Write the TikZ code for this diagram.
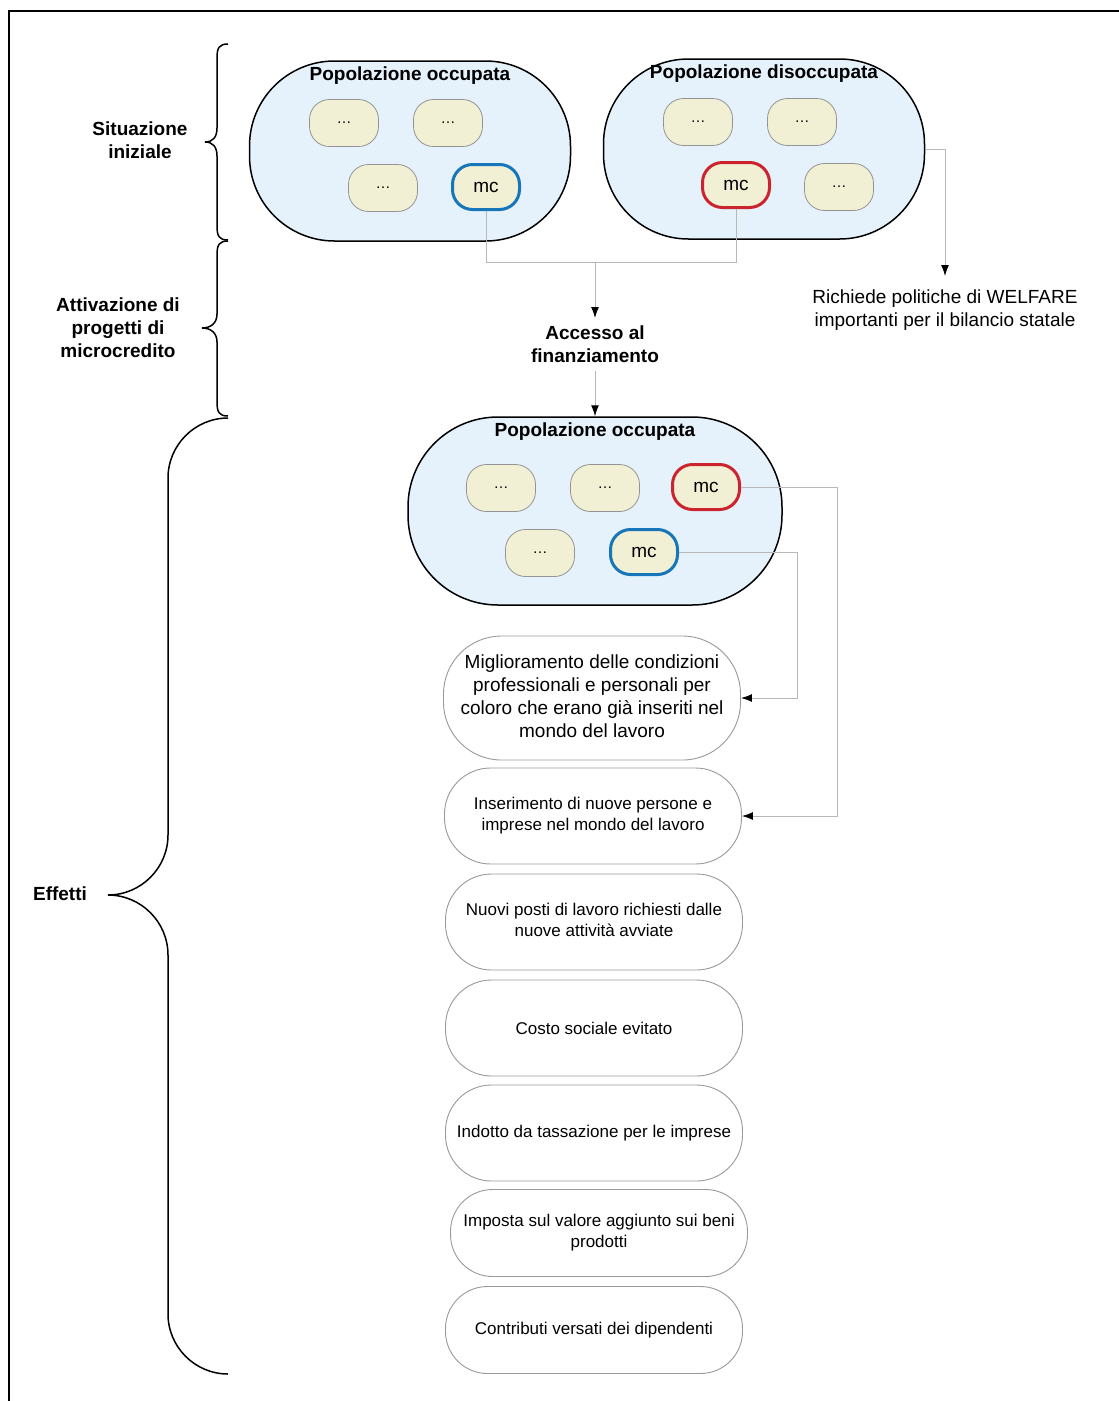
\documentclass[tikz,border=0pt]{standalone}
\usepackage{fontspec}
\setmainfont{Liberation Sans}
\usepackage{tikz}
\usetikzlibrary{arrows.meta}
\usetikzlibrary{positioning}
\definecolor{popfill}{rgb}{0.90, 0.95, 0.99}
\definecolor{itemfill}{rgb}{0.95, 0.94, 0.83}
\definecolor{itemline}{rgb}{0.58, 0.58, 0.58}
\definecolor{mblue}{rgb}{0.09, 0.46, 0.73}
\definecolor{mred}{rgb}{0.80, 0.14, 0.18}
\definecolor{connline}{rgb}{0.72, 0.72, 0.72}
\definecolor{effline}{rgb}{0.6, 0.6, 0.6}
\tikzset{pop/.style = {draw, line width = 1.5, fill = popfill, rounded corners = 85, minimum width = 321, minimum height = 180}}
\tikzset{poptitle/.style = {anchor = north, inner ysep = 6, font = \bfseries\fontsize{19}{23}\selectfont}}
\tikzset{item/.style = {draw = itemline, line width = 0.8, fill = itemfill, rounded corners = 20, minimum width = 69, minimum height = 47, font = \fontsize{15}{17}\selectfont}}
\tikzset{mcb/.style = {item, draw = mblue, line width = 3, minimum width = 67, minimum height = 45, font = \fontsize{19}{22}\selectfont}}
\tikzset{mcr/.style = {mcb, draw = mred}}
\tikzset{lab/.style = {align = center, font = \bfseries\fontsize{19}{23}\selectfont}}
\tikzset{effect/.style = {draw = effline, line width = 0.9, fill = white, rounded corners = 46, minimum width = 297, minimum height = 96, align = center, font = \fontsize{17}{21}\selectfont}}
\tikzset{conn/.style = {draw = connline, line width = 1}}
\tikzset{arr/.style = {conn, -{Latex[length = 11pt, width = 8pt, black]}}}
\tikzset{brace/.style = {draw, line width = 1.5}}

\begin{document}
\begin{tikzpicture}[x = 1pt, y = -1pt]
      \useasboundingbox (0, 0) rectangle (1119, 1401);
      \draw [line width = 2] (9, 1401) -- (9, 11) -- (1119, 11);

      % braces
      \draw [brace] (228, 44) .. controls (219, 44) and (217, 48) .. (217, 58) -- (217, 128)
            .. controls (217, 137) and (213, 142) .. (205, 142) .. controls (213, 142) and (217, 147) .. (217, 156)
            -- (217, 226) .. controls (217, 236) and (219, 240) .. (228, 240);
      \draw [brace] (228, 241) .. controls (219, 241) and (217, 245) .. (217, 255) -- (217, 314)
            .. controls (217, 323) and (211, 328) .. (202, 328) .. controls (211, 328) and (217, 333) .. (217, 342)
            -- (217, 402) .. controls (217, 412) and (219, 416) .. (228, 416);
      \draw [brace] (228, 418) .. controls (195, 418) and (168, 445) .. (168, 478) -- (168, 835)
            .. controls (168, 868) and (141, 895) .. (108, 895) .. controls (141, 895) and (168, 922) .. (168, 955)
            -- (168, 1314) .. controls (168, 1347) and (195, 1374) .. (228, 1374);
      \node [lab] (sit) at (140, 140) {Situazione\\iniziale};
      \node [lab] (att) at (118, 328) {Attivazione di\\progetti di\\microcredito};
      \node [lab] (eff) at (60, 894) {Effetti};

      % popolazione occupata
      \node [pop] (pop1) at (410, 151) {};
      \node [poptitle] (pop1t) at (pop1.north) {Popolazione occupata};
      \node [item] (o1) at (344, 123) {\dots};
      \node [item] (o2) at (448, 123) {\dots};
      \node [item] (o3) at (383, 188) {\dots};
      \node [mcb] (b1) at (486, 187) {mc};

      % popolazione disoccupata
      \node [pop] (pop2) at (764, 149) {};
      \node [poptitle] (pop2t) at (pop2.north) {Popolazione disoccupata};
      \node [item] (d1) at (698, 122) {\dots};
      \node [item] (d2) at (802, 122) {\dots};
      \node [mcr] (r1) at (736, 185) {mc};
      \node [item] (d3) at (839, 187) {\dots};

      \node [align = center, font = \fontsize{19}{23}\selectfont, anchor = north, inner ysep = 14] (welf) at (945, 276) {Richiede politiche di WELFARE\\importanti per il bilancio statale};
      \node [lab, anchor = north, inner ysep = 8] (acc) at (595, 318) {Accesso al\\finanziamento};

      % popolazione occupata dopo
      \node [pop, minimum width = 374, minimum height = 188, rounded corners = 90] (pop3) at (595, 511) {};
      \node [poptitle] (pop3t) at (pop3.north) {Popolazione occupata};
      \node [item] (n1) at (501, 488) {\dots};
      \node [item] (n2) at (605, 488) {\dots};
      \node [mcr] (r2) at (706, 487) {mc};
      \node [item] (n3) at (540, 553) {\dots};
      \node [mcb] (b2) at (644, 552) {mc};

      % effetti
      \node [effect, minimum height = 124, rounded corners = 58, font = \fontsize{19}{23}\selectfont] (mig) at (592, 698) {Miglioramento delle condizioni\\professionali e personali per\\coloro che erano già inseriti nel\\mondo del lavoro\vphantom{g}};
      \node [effect] (ins) at (593, 816) {Inserimento di nuove persone e\\imprese nel mondo del lavoro};
      \node [effect] (nuovi) at (594, 922) {Nuovi posti di lavoro richiesti dalle\\nuove attività avviate\vphantom{g}};
      \node [effect] (costo) at (594, 1028) {Costo sociale evitato};
      \node [effect] (indotto) at (594, 1133) {Indotto da tassazione per le imprese};
      \node [effect, minimum height = 87, rounded corners = 42] (iva) at (599, 1233) {Imposta sul valore aggiunto sui beni\\prodotti};
      \node [effect, minimum height = 87, rounded corners = 42] (contr) at (594, 1330) {Contributi versati dei dipendenti};

      % connettori
      \coordinate (join) at (595, 262);
      \draw [conn] (b1.south) |- (join);
      \draw [conn] (r1.south) |- (join);
      \draw [arr] (join) -- (acc.north);
      \draw [arr] (acc.south) -- (pop3.north);
      \draw [arr] (pop2.east) -| (welf.north);
      \draw [arr] (r2.east) -- ++(96, 0) |- (ins.east);
      \draw [arr] (b2.east) -- ++(118, 0) |- (mig.east);
    \end{tikzpicture}
\end{document}
